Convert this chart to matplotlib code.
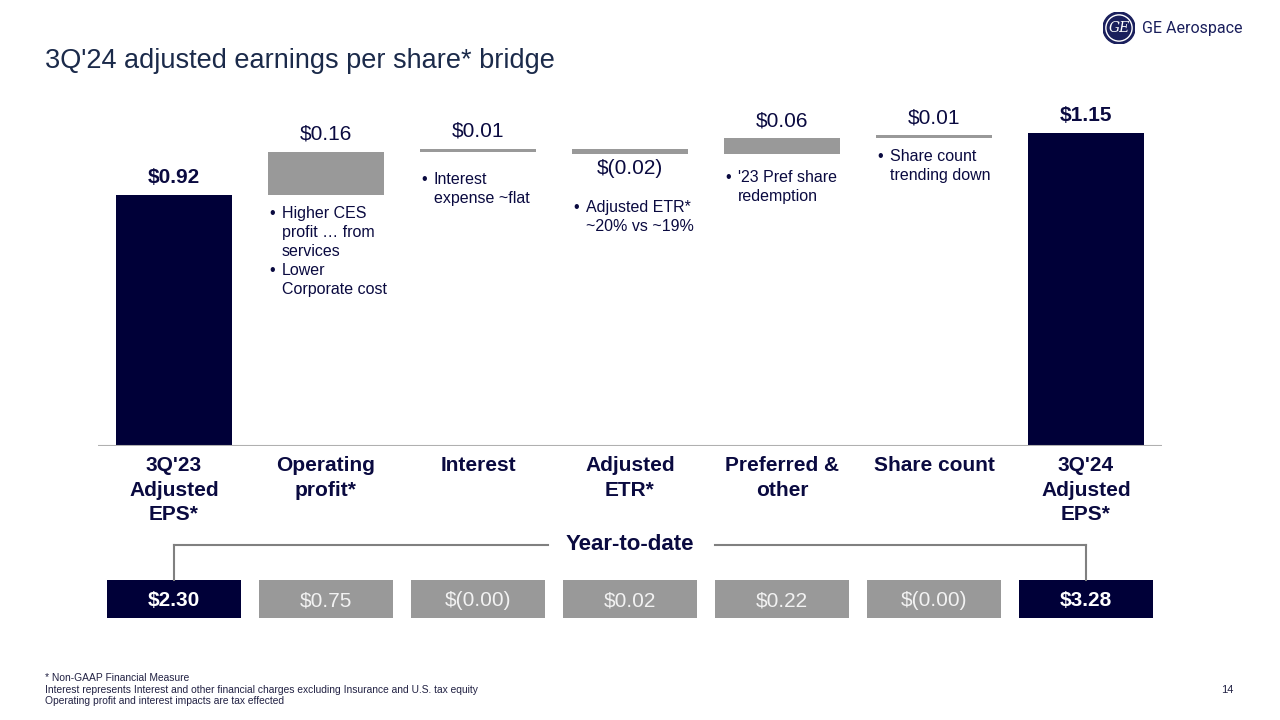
import matplotlib
matplotlib.use("Agg")
import matplotlib.pyplot as plt
from matplotlib.patches import Circle

plt.rcParams['font.family'] = ['Liberation Sans', 'DejaVu Sans']

# ---- data ----
categories = ["3Q'23\nAdjusted\nEPS*", "Operating\nprofit*", "Interest", "Adjusted\nETR*",
              "Preferred &\nother", "Share count", "3Q'24\nAdjusted\nEPS*"]
start_eps = 0.92
deltas = [0.16, 0.01, -0.02, 0.06, 0.01]
end_eps = 1.15
value_labels = ["$0.92", "$0.16", "$0.01", "$(0.02)", "$0.06", "$0.01", "$1.15"]
bullets = [None,
           "Higher CES\nprofit … from\nservices\nLower\nCorporate cost",
           "Interest\nexpense ~flat",
           "Adjusted ETR*\n~20% vs ~19%",
           "'23 Pref share\nredemption",
           "Share count\ntrending down",
           None]
bullet_marks = [None, "•\n\n\n•", "•", "•", "•", "•", None]
ytd_values = ["$2.30", "$0.75", "$(0.00)", "$0.02", "$0.22", "$(0.00)", "$3.28"]

NAVY = "#000038"
TEXT = "#0a0a40"
GRAY = "#999999"
TITLE = "#1b2a4a"

fig = plt.figure(figsize=(12.8, 7.2), dpi=100)
W, H = 1280, 720

def ax_rect(x0, y0, x1, y1):
    return [x0 / W, 1 - y1 / H, (x1 - x0) / W, (y1 - y0) / H]

# main axes: x from -0.5..6.5 -> px 98..1162 ; y 0 at px 446, 272.5 px per $
ymax = 1.3
ax = fig.add_axes(ax_rect(98, 446 - ymax * 272.5, 1162, 446))
ax.set_xlim(-0.5, 6.5)
ax.set_ylim(0, ymax)
ax.axis('off')

bw = 0.765
n = len(categories)
# totals
ax.bar(0, start_eps, width=bw, color=NAVY)
ax.bar(n - 1, end_eps, width=bw, color=NAVY)
# floating bars
cum = start_eps
bottoms, tops = [], []
for i, d in enumerate(deltas, start=1):
    lo, hi = (cum, cum + d) if d >= 0 else (cum + d, cum)
    ax.bar(i, hi - lo, bottom=lo, width=bw, color=GRAY, linewidth=0)
    bottoms.append(lo)
    tops.append(hi)
    cum += d

ax.axhline(0, color="#b0b0b0", lw=1.5)

# value labels
ax.annotate(value_labels[0], (0, start_eps), xytext=(0, 8), textcoords='offset pixels',
            ha='center', va='bottom', fontsize=15, fontweight='bold', color=TEXT)
ax.annotate(value_labels[-1], (n - 1, end_eps), xytext=(0, 8), textcoords='offset pixels',
            ha='center', va='bottom', fontsize=15, fontweight='bold', color=TEXT)
for i, d in enumerate(deltas, start=1):
    lo, hi = bottoms[i - 1], tops[i - 1]
    if d >= 0:
        ax.annotate(value_labels[i], (i, hi), xytext=(0, 8), textcoords='offset pixels',
                    ha='center', va='bottom', fontsize=15, color=TEXT)
    else:
        ax.annotate(value_labels[i], (i, lo), xytext=(0, -5), textcoords='offset pixels',
                    ha='center', va='top', fontsize=15, color=TEXT)

# bullet notes
note_offsets = {1: -11, 2: -20, 3: -46, 4: -16, 5: -11}
for i in range(1, n - 1):
    lo = bottoms[i - 1]
    xl = i - bw / 2
    off = note_offsets[i]
    ax.annotate(bullet_marks[i], (xl, lo), xytext=(2, off), textcoords='offset pixels',
                ha='left', va='top', fontsize=11.5, color=TEXT, linespacing=1.33)
    ax.annotate(bullets[i], (xl, lo), xytext=(14, off), textcoords='offset pixels',
                ha='left', va='top', fontsize=11.5, color=TEXT, linespacing=1.33)

# category labels
for i, c in enumerate(categories):
    ax.annotate(c, (i, 0), xytext=(0, -10), textcoords='offset pixels', ha='center', va='top',
                fontsize=15, fontweight='bold', color=TEXT, linespacing=1.38)

# ---- YTD row ----
ax2 = fig.add_axes(ax_rect(98, 580, 1162, 618))
ax2.set_xlim(-0.5, 6.5)
ax2.set_ylim(0, 1)
ax2.axis('off')
for i, v in enumerate(ytd_values):
    total = i in (0, n - 1)
    ax2.bar(i, 1, width=0.885, bottom=0, color=NAVY if total else GRAY, linewidth=0)
    ax2.text(i, 0.5, v, ha='center', va='center_baseline', fontsize=15,
             color='white' if total else '#f2f2f2',
             fontweight='bold' if total else 'normal')

# bracket
yb = 35 / 38 + 1  # 35 px above box top
bc = "#808080"
ax2.plot([0, 0], [1, yb], color=bc, lw=1.5, clip_on=False)
ax2.plot([n - 1, n - 1], [1, yb], color=bc, lw=1.5, clip_on=False)
ax2.plot([0, 2.46], [yb, yb], color=bc, lw=1.5, clip_on=False)
ax2.plot([3.56, n - 1], [yb, yb], color=bc, lw=1.5, clip_on=False)
ax2.text(3, yb, "Year-to-date", ha='center', va='center', fontsize=16, fontweight='bold', color=TEXT)

# ---- title, logo, footnotes ----
fig.text(45 / W, 1 - 61 / H, "3Q'24 adjusted earnings per share* bridge", fontsize=19.5,
         color=TITLE, ha='left', va='center')

axl = fig.add_axes(ax_rect(1103, 12, 1135, 44))
axl.set_xlim(-1, 1); axl.set_ylim(-1, 1); axl.axis('off')
axl.add_patch(Circle((0, 0), 1.0, color="#1a1f5c"))
axl.add_patch(Circle((0, 0), 0.82, fill=False, ec='white', lw=1))
axl.text(0, -0.02, "GE", ha='center', va='center', fontsize=10, color='white',
         fontstyle='italic', family='DejaVu Serif')
fig.text(1142 / W, 1 - 28 / H, "GE Aerospace", fontsize=11.5, color="#1a1f5c",
         ha='left', va='center', family='Roboto')

foot = ("* Non-GAAP Financial Measure\n"
        "Interest represents Interest and other financial charges excluding Insurance and U.S. tax equity\n"
        "Operating profit and interest impacts are tax effected")
fig.text(45 / W, 1 - 673 / H, foot, fontsize=7.35, color="#222244", ha='left', va='top', linespacing=1.2)
fig.text(1233 / W, 1 - 690 / H, "14", fontsize=8, color="#222244", ha='right', va='center')

fig.savefig("out.png", dpi=100)
